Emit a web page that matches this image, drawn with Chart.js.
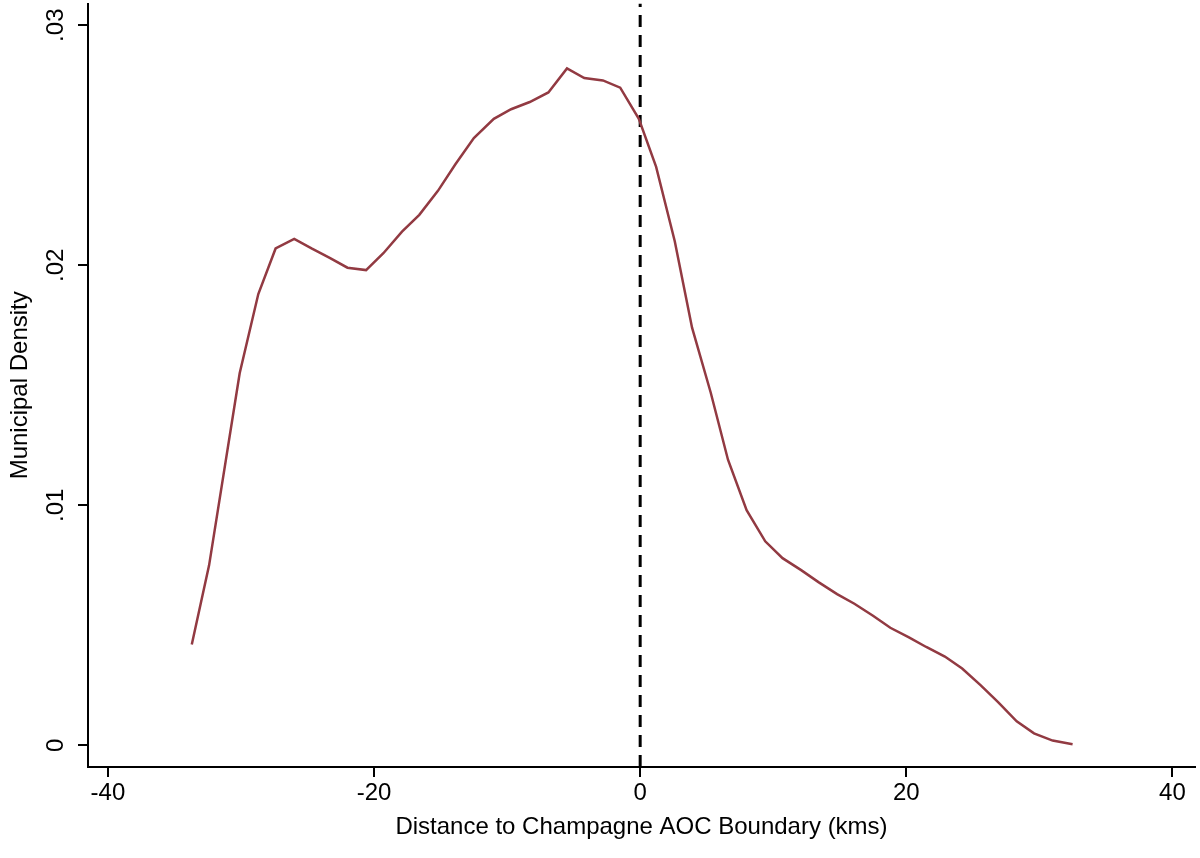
<!DOCTYPE html>
<html>
<head>
<meta charset="utf-8">
<script src="https://cdn.jsdelivr.net/npm/chart.js@4/dist/chart.umd.min.js"></script>
<style>
  html, body { margin: 0; padding: 0; background: #fff; }
  #wrap { width: 1200px; height: 858px; }
</style>
</head>
<body>
<div id="wrap"><canvas id="c"></canvas></div>
<script>
// Density curve
const distances = [-33.7, -32.4, -30.1, -28.7, -27.4, -26.0, -24.7, -23.3, -22.0, -20.6, -19.3, -17.9, -16.6, -15.2, -13.9, -12.5, -11.0, -9.7, -8.3, -6.9, -5.5, -4.2, -2.8, -1.5, -0.1, 1.2, 2.6, 3.9, 5.3, 6.6, 8.0, 9.4, 10.7, 12.1, 13.4, 14.8, 16.1, 17.5, 18.8, 20.2, 21.5, 22.9, 24.2, 25.6, 26.9, 28.3, 29.6, 31.0, 32.5];
const densities = [0.0042, 0.0075, 0.0155, 0.0188, 0.0207, 0.0211, 0.0207, 0.0203, 0.0199, 0.0198, 0.0205, 0.0214, 0.0221, 0.0231, 0.0242, 0.0253, 0.0261, 0.0265, 0.0268, 0.0272, 0.0282, 0.0278, 0.0277, 0.0274, 0.0261, 0.0241, 0.0210, 0.0174, 0.0147, 0.0119, 0.0098, 0.0085, 0.0078, 0.0073, 0.0068, 0.0063, 0.0059, 0.0054, 0.0049, 0.0045, 0.0041, 0.0037, 0.0032, 0.0025, 0.0018, 0.0010, 0.0005, 0.0002, 0.00005];
const xTicks = [-40, -20, 0, 20, 40];
const yTicks = [0, 0.01, 0.02, 0.03];
const yTickLabels = ['0', '.01', '.02', '.03'];

const font = { family: 'Liberation Sans, Arial, sans-serif', size: 24 };

// y tick labels are rotated in the original, so draw them here
const rotatedYLabels = {
  id: 'rotatedYLabels',
  afterDraw(chart) {
    const ctx = chart.ctx;
    const y = chart.scales.y;
    ctx.save();
    ctx.fillStyle = '#000';
    ctx.font = font.size + 'px ' + font.family;
    ctx.textAlign = 'center';
    ctx.textBaseline = 'bottom';
    yTicks.forEach((v, i) => {
      ctx.save();
      ctx.translate(y.right - 20, y.getPixelForValue(v));
      ctx.rotate(-Math.PI / 2);
      ctx.fillText(yTickLabels[i], 0, 0);
      ctx.restore();
    });
    ctx.restore();
  }
};

new Chart(document.getElementById('c'), {
  type: 'line',
  data: {
    datasets: [{
      data: distances.map((d, i) => ({ x: d, y: densities[i] })),
      borderColor: '#923a42',
      borderWidth: 2.5,
      pointRadius: 0,
      tension: 0
    }, {
      data: [{ x: 0, y: -0.0009 }, { x: 0, y: 0.0309 }],
      borderColor: '#000',
      borderWidth: 3,
      borderDash: [12, 8],
      pointRadius: 0
    }]
  },
  options: {
    responsive: true,
    maintainAspectRatio: false,
    animation: false,
    layout: { padding: { top: 0, right: 5, left: 6 } },
    plugins: { legend: { display: false }, tooltip: { enabled: false } },
    scales: {
      x: {
        type: 'linear',
        min: -41.5,
        max: 41.7,
        afterBuildTicks: s => { s.ticks = xTicks.map(v => ({ value: v })); },
        afterFit: s => { s.height = 91; },
        grid: { drawOnChartArea: false, tickLength: 10, color: '#000', lineWidth: 2 },
        border: { color: '#000', width: 2 },
        ticks: { color: '#000', font: font, padding: 2 },
        title: { display: true, text: 'Distance to Champagne AOC Boundary (kms)', color: '#000', font: font, padding: { top: 0, bottom: 16 } }
      },
      y: {
        min: -0.0009,
        max: 0.0309,
        afterBuildTicks: s => { s.ticks = yTicks.map(v => ({ value: v })); },
        afterFit: s => { s.width = 82; },
        grid: { drawOnChartArea: false, tickLength: 10, color: '#000', lineWidth: 2 },
        border: { color: '#000', width: 2 },
        ticks: { color: 'rgba(0,0,0,0)', font: { size: 1 } },
        title: { display: true, text: 'Municipal Density', color: '#000', font: font, padding: 0 }
      }
    }
  },
  plugins: [rotatedYLabels]
});
</script>
</body>
</html>
